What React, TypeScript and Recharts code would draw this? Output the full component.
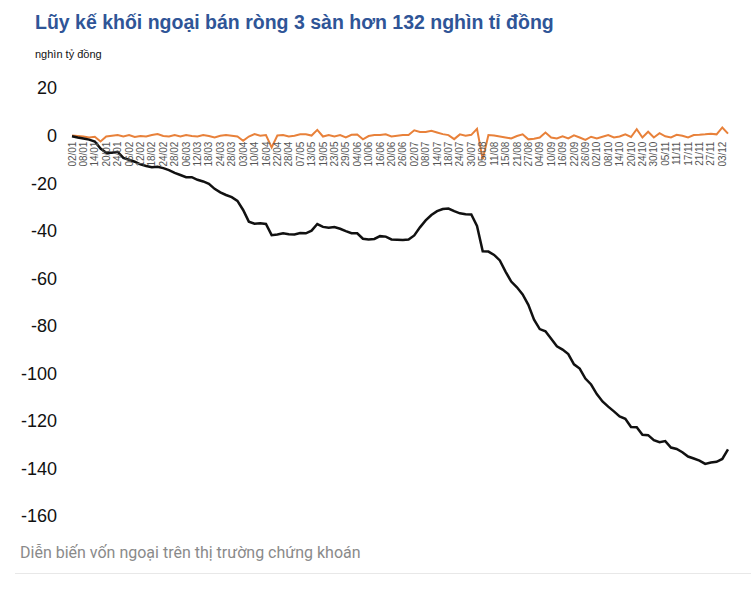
import { LineChart, Line, XAxis, YAxis } from 'recharts';

const dates = [
  '02/01', '06/01', '08/01', '10/01', '14/01', '16/01', '20/01', '22/01', '24/01', '04/02',
  '06/02', '10/02', '12/02', '14/02', '18/02', '20/02', '24/02', '26/02', '28/02', '04/03',
  '06/03', '10/03', '12/03', '14/03', '18/03', '20/03', '24/03', '26/03', '28/03', '01/04',
  '03/04', '08/04', '10/04', '14/04', '16/04', '18/04', '22/04', '24/04', '28/04', '05/05',
  '07/05', '09/05', '13/05', '15/05', '19/05', '21/05', '23/05', '27/05', '29/05', '02/06',
  '04/06', '06/06', '10/06', '12/06', '16/06', '18/06', '20/06', '24/06', '26/06', '30/06',
  '02/07', '04/07', '08/07', '10/07', '14/07', '16/07', '18/07', '22/07', '24/07', '28/07',
  '30/07', '01/08', '05/08', '07/08', '11/08', '13/08', '15/08', '19/08', '21/08', '25/08',
  '27/08', '29/08', '04/09', '08/09', '10/09', '12/09', '16/09', '18/09', '22/09', '24/09',
  '26/09', '30/09', '02/10', '06/10', '08/10', '10/10', '14/10', '16/10', '20/10', '22/10',
  '24/10', '28/10', '30/10', '03/11', '05/11', '07/11', '11/11', '13/11', '17/11', '19/11',
  '21/11', '25/11', '27/11', '01/12', '03/12', '04/12',
];

// lũy kế (nghìn tỷ đồng)
const cumulative = [
  -0.3, -0.8, -1.2, -1.7, -2.5, -5.5, -7.2, -7.2, -6.8, -9.4,
  -10.2, -11, -12.1, -12.8, -13.3, -13.1, -13.7, -14.5, -15.7, -16.6,
  -17.5, -17.5, -18.6, -19.3, -20.3, -22.4, -23.9, -25, -25.9, -27.5,
  -31.3, -36.2, -37.1, -36.9, -37.2, -41.9, -41.6, -41.1, -41.5, -41.6,
  -41, -41.1, -40, -37.2, -38.4, -38.8, -38.5, -39.2, -40.2, -41.1,
  -41.1, -43.4, -43.7, -43.5, -42.3, -42.5, -43.7, -43.8, -43.9, -43.7,
  -42, -38.6, -35.7, -33.4, -31.8, -30.9, -30.7, -31.8, -32.7, -33.1,
  -33.2, -38, -48.7, -48.8, -50.2, -52.5, -57.2, -61.4, -63.8, -66.8,
  -71.2, -77.4, -81.4, -82.3, -85.5, -88.6, -90, -91.9, -96.2, -98,
  -102.2, -104.7, -108.7, -111.8, -114, -116, -118.1, -119.1, -122.6, -122.7,
  -125.8, -126, -128.1, -129, -128.5, -131.2, -131.8, -133.2, -135, -135.8,
  -136.7, -138.1, -137.5, -137.2, -136, -132,
];

// mua/bán ròng trong phiên
const daily = [
  0, -0.2, -0.4, -0.8, -0.5, -2.5, -0.4, -0.1, 0.2, -0.4,
  0.2, -0.6, -0.2, -0.4, 0.2, 0.6, -0.2, -0.4, 0.2, -0.4,
  0.2, -0.2, -0.4, 0.2, -0.2, -0.8, -0.1, 0.2, -0.1, -0.4,
  -2.2, -0.4, 0.6, -0.1, 0.2, -5, 0, 0.2, -0.4, -0.1,
  0.5, 0.5, 0, 2.4, -0.4, 0.2, -0.4, 0.2, -0.8, 0.3,
  0.4, -1.6, -0.2, 0.2, 0.2, 0.5, -0.4, -0.1, 0.2, 0.2,
  2.2, 1.5, 1.5, 2, 1.3, 0.6, 0.2, -1.5, 0.5, -0.1,
  0.3, 2.8, -10, 0.2, 0, -0.4, -0.8, -1.2, -0.2, 0.5,
  -1.6, -1.3, -0.8, 1.3, -0.8, -1.2, -0.3, -1.2, 0.1, -0.8,
  -1.8, -0.5, -1.2, -0.5, 0.2, -0.8, -0.4, 0.5, -0.6, 2.7,
  -0.8, 1.6, -0.8, 1, -0.3, -0.8, 0.3, -0.1, -0.8, 0.2,
  0.3, 0.5, 0.8, 0.5, 3.4, 0.8,
];

const yTicks = [20, 0, -20, -40, -60, -80, -100, -120, -140, -160];

const Y_MIN = -160;
const Y_MAX = 20;
const PLOT_TOP = 88;
const PLOT_H = 428;
const ZERO_Y = PLOT_TOP + ((Y_MAX - 0) / (Y_MAX - Y_MIN)) * PLOT_H;

const FONT = '"Liberation Sans", Arial, Helvetica, sans-serif';

const data = dates.map((d, i) => ({ date: d, cum: cumulative[i], day: daily[i] }));

function DateTick(props: any) {
  const { x, payload } = props;
  const px = x + 3.6;
  const py = ZERO_Y + 6;
  return (
    <text
      x={px}
      y={py}
      transform={`rotate(-90, ${px}, ${py})`}
      textAnchor="end"
      fontSize={10}
      fontFamily={FONT}
      fill="#555"
    >
      {payload.value}
    </text>
  );
}

export default function App() {
  return (
    <div
      style={{
        position: 'absolute',
        left: 0,
        top: 0,
        width: 756,
        height: 589,
        background: '#fff',
        fontFamily: FONT,
        overflow: 'hidden',
      }}
    >
      <div
        style={{
          position: 'absolute',
          left: 35,
          top: 13,
          fontSize: 19.5,
          lineHeight: 1,
          fontWeight: 'bold',
          color: '#2f5597',
          whiteSpace: 'nowrap',
        }}
      >
        Lũy kế khối ngoại bán ròng 3 sàn hơn 132 nghìn tỉ đồng
      </div>
      <div
        style={{
          position: 'absolute',
          left: 35,
          top: 49,
          fontSize: 11,
          lineHeight: 1,
          color: '#111',
        }}
      >
        nghìn tỷ đồng
      </div>

      <div style={{ position: 'absolute', left: 0, top: 0 }}>
        <LineChart
          width={756}
          height={589}
          data={data}
          margin={{ top: PLOT_TOP, right: 28, bottom: 43, left: 10 }}
        >
          <XAxis
            dataKey="date"
            interval={1}
            axisLine={false}
            tickLine={false}
            height={30}
            tick={<DateTick />}
          />
          <YAxis
            domain={[Y_MIN, Y_MAX]}
            ticks={yTicks}
            width={62}
            axisLine={false}
            tickLine={false}
            tickSize={0}
            tickMargin={15}
            tick={{ fontSize: 18, fill: '#111', fontFamily: FONT }}
          />
          <Line
            type="linear"
            dataKey="day"
            stroke="#e8813a"
            strokeWidth={2}
            dot={false}
            activeDot={false}
            isAnimationActive={false}
          />
          <Line
            type="linear"
            dataKey="cum"
            stroke="#111"
            strokeWidth={2.5}
            dot={false}
            activeDot={false}
            isAnimationActive={false}
          />
        </LineChart>
      </div>

      <div
        style={{
          position: 'absolute',
          left: 20,
          top: 545,
          fontSize: 16,
          lineHeight: 1,
          color: '#8a8a8a',
          fontFamily: 'Roboto, "Noto Sans", sans-serif',
          whiteSpace: 'nowrap',
        }}
      >
        Diễn biến vốn ngoại trên thị trường chứng khoán
      </div>
      <div
        style={{
          position: 'absolute',
          left: 15,
          top: 573,
          width: 736,
          height: 1,
          background: '#e8e8e8',
        }}
      />
    </div>
  );
}
